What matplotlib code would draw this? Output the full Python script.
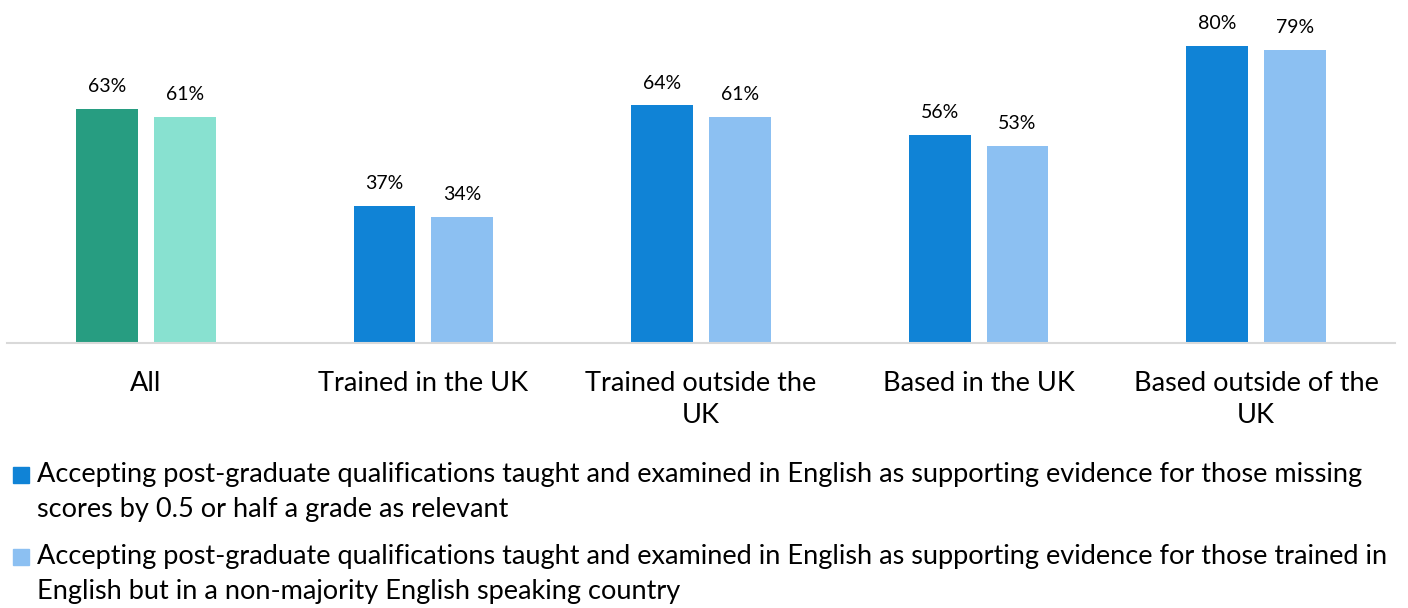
import numpy as np
import matplotlib
matplotlib.use('Agg')
import matplotlib.pyplot as plt
from matplotlib.patches import Rectangle

plt.rcParams['font.family'] = ['Lato', 'DejaVu Sans']

categories = ["All", "Trained in the UK", "Trained outside the\nUK",
              "Based in the UK", "Based outside of the\nUK"]
missing_scores = [63, 37, 64, 56, 80]      # first series
non_majority = [61, 34, 61, 53, 79]        # second series
legend_labels = [
    "Accepting post-graduate qualifications taught and examined in English as supporting evidence for those missing\n"
    "scores by 0.5 or half a grade as relevant",
    "Accepting post-graduate qualifications taught and examined in English as supporting evidence for those trained in\n"
    "English but in a non-majority English speaking country",
]

dark_cols = ['#279D81'] + ['#1083D6'] * 4
light_cols = ['#88E1D0'] + ['#8CC0F2'] * 4

fig = plt.figure(figsize=(14.08, 6.08), dpi=100)
ax = fig.add_axes([7 / 1408, (608 - 343) / 608, (1395 - 7) / 1408, 343 / 608])

x = np.arange(len(categories))
w = 0.223
off = 0.14
b1 = ax.bar(x - off, missing_scores, w, color=dark_cols)
b2 = ax.bar(x + off, non_majority, w, color=light_cols)
ax.bar_label(b1, labels=[f"{v}%" for v in missing_scores], padding=10, fontsize=14)
ax.bar_label(b2, labels=[f"{v}%" for v in non_majority], padding=10, fontsize=14)

ax.set_xlim(-0.5, len(categories) - 0.5)
ax.set_ylim(0, 92.4)
ax.set_xticks(x)
ax.set_xticklabels(categories, fontsize=19.5, linespacing=1.35)
ax.tick_params(axis='x', length=0, pad=20)
ax.set_yticks([])
for s in ['top', 'left', 'right']:
    ax.spines[s].set_visible(False)
ax.spines['bottom'].set_color('#d9d9d9')
ax.spines['bottom'].set_linewidth(1.5)

# legend drawn by hand so the marker sits beside the first line
leg_cols = ['#1083D6', '#8CC0F2']
leg_tops = [462, 544]
for col, lab, top in zip(leg_cols, legend_labels, leg_tops):
    fig.patches.append(Rectangle((13 / 1408, 1 - (top + 21) / 608), 16 / 1408, 16 / 608,
                                 transform=fig.transFigure, color=col))
    fig.text(37 / 1408, 1 - top / 608, lab, fontsize=19.5, va='top', ha='left',
             linespacing=1.48)

fig.savefig('out.png', dpi=100)
